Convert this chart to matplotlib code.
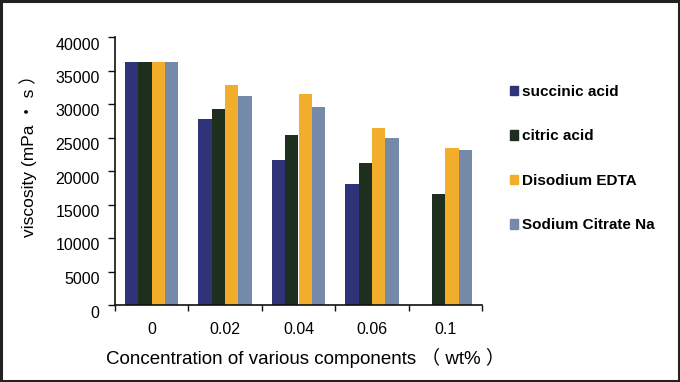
import matplotlib
matplotlib.use("Agg")
import matplotlib.pyplot as plt
import matplotlib.transforms as mtransforms
import numpy as np
from matplotlib.patches import Rectangle

categories = ["0", "0.02", "0.04", "0.06", "0.1"]
series_names = ["succinic acid", "citric acid", "Disodium EDTA", "Sodium Citrate Na"]
succinic = [36200, 27800, 21600, 18100, 0]
citric = [36200, 29200, 25400, 21150, 16500]
edta = [36200, 32900, 31450, 26400, 23400]
citrate = [36200, 31150, 29550, 25000, 23200]
colors = ["#2F3479", "#1E2F1E", "#F2AE2A", "#7589A8"]

plt.rcParams['font.family'] = ['Liberation Sans', 'Noto Sans CJK SC', 'DejaVu Sans']

fig = plt.figure(figsize=(6.8, 3.82), dpi=100)
ax = fig.add_axes([115/680, 1-305/382, (482-115)/680, (305-37)/382])

x = np.arange(len(categories))
bw = 0.182
data = [succinic, citric, edta, citrate]
for i, (vals, c, name) in enumerate(zip(data, colors, series_names)):
    ax.bar(x + (i - 1.5) * bw, vals, width=bw, color=c, label=name, linewidth=0)

ax.set_xlim(-0.5, len(categories) - 0.5)
ax.set_ylim(0, 40000)
ax.set_yticks(np.arange(0, 40001, 5000))
ax.set_xticks(np.arange(-0.5, len(categories), 1.0))
ax.set_xticklabels([])
ax.set_xticks(x, minor=True)
ax.set_xticklabels(categories, minor=True)
ax.tick_params(axis='x', which='minor', length=0, pad=12, labelsize=11.5)
ax.tick_params(axis='x', which='major', length=4, width=1, direction='out', color='#111111')
ax.tick_params(axis='y', length=5, width=1, direction='out', labelsize=11.5, pad=6, color='#111111')
offset = mtransforms.ScaledTranslation(0, -8/100, fig.dpi_scale_trans)
for lab in ax.get_yticklabels():
    lab.set_verticalalignment('center')
    lab.set_transform(lab.get_transform() + offset)
for s in ['top', 'right']:
    ax.spines[s].set_visible(False)
for s in ['left', 'bottom']:
    ax.spines[s].set_color('#111111')
    ax.spines[s].set_linewidth(1.2)

fig.text(28/680, 1-152/382, "viscosity (mPa \u30fb s \uff09", rotation=90,
         ha='center', va='center', fontsize=12.5)
fig.text(305/680, 1-358/382, "Concentration of various components \uff08 wt% \uff09",
         ha='center', va='center', fontsize=13.5)

# Legend
handles = [Rectangle((0, 0), 1, 1, color=c) for c in colors]
leg = fig.legend(handles, series_names, loc='upper left', bbox_to_anchor=(496/680, 1-71/382),
                 frameon=False, handlelength=0.55, handleheight=0.55, handletextpad=0.25,
                 labelspacing=2.0, prop={'weight': 'bold', 'size': 11})

fig.patches.append(Rectangle((0.0015, 0.0025), 0.997, 0.995, transform=fig.transFigure,
                             fill=False, edgecolor='#222222', linewidth=2.2))

fig.savefig("out.png", dpi=100)
